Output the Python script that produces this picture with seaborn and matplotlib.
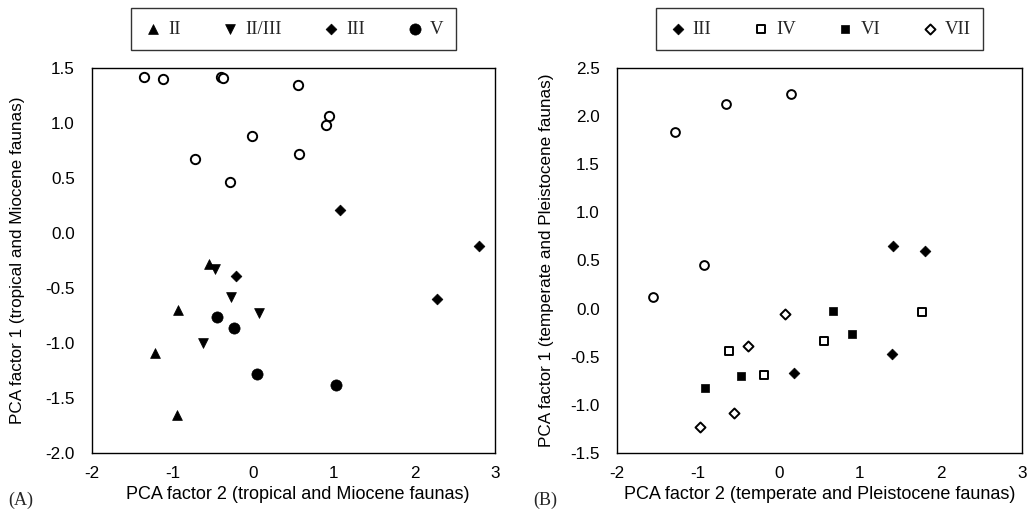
import matplotlib
matplotlib.use("Agg")
import matplotlib.pyplot as plt
import seaborn as sns
import numpy as np

# ---- Panel A data ----
a_open_x = [-1.36, -1.12, -0.40, -0.38, 0.55, 0.94, 0.90, -0.02, 0.57, -0.72, -0.29]
a_open_y = [1.42, 1.40, 1.42, 1.41, 1.35, 1.06, 0.98, 0.88, 0.72, 0.67, 0.46]
a_II_x = [-0.55, -0.93, -1.22, -0.95]
a_II_y = [-0.28, -0.70, -1.09, -1.65]
a_IIIII_x = [-0.48, -0.28, 0.07, -0.62]
a_IIIII_y = [-0.33, -0.58, -0.73, -1.00]
a_III_x = [1.08, 2.80, 2.28, -0.21]
a_III_y = [0.21, -0.12, -0.60, -0.39]
a_V_x = [-0.45, -0.24, 0.05, 1.03]
a_V_y = [-0.76, -0.86, -1.28, -1.38]

# ---- Panel B data ----
b_open_x = [-1.56, -1.28, -0.65, 0.15, -0.93]
b_open_y = [0.12, 1.84, 2.13, 2.23, 0.45]
b_III_x = [0.19, 1.39, 1.41, 1.80]
b_III_y = [-0.67, -0.47, 0.65, 0.60]
b_IV_x = [-0.62, -0.19, 0.55, 1.77]
b_IV_y = [-0.44, -0.69, -0.34, -0.03]
b_VI_x = [-0.91, -0.47, 0.67, 0.90]
b_VI_y = [-0.82, -0.70, -0.02, -0.26]
b_VII_x = [0.07, -0.38, -0.56, -0.98]
b_VII_y = [-0.06, -0.39, -1.08, -1.23]

legend_A = ["II", "II/III", "III", "V"]
legend_B = ["III", "IV", "VI", "VII"]
xticks = [-2, -1, 0, 1, 2, 3]
yticks_A = [-2.0, -1.5, -1.0, -0.5, 0.0, 0.5, 1.0, 1.5]
yticks_B = [-1.5, -1.0, -0.5, 0.0, 0.5, 1.0, 1.5, 2.0, 2.5]

sns.set_theme(style="white")
plt.rcParams["font.family"] = ["Liberation Sans", "DejaVu Sans"]

fig = plt.figure(figsize=(10.30, 5.14), dpi=100)
W, H = 1030, 514
axA = fig.add_axes([92 / W, 1 - 453 / H, (495 - 92) / W, (453 - 68) / H])
axB = fig.add_axes([617 / W, 1 - 453 / H, (1022 - 617) / W, (453 - 68) / H])

def filled(ax, x, y, m, s, label):
    sns.scatterplot(x=x, y=y, marker=m, s=s, color="black", edgecolor="black",
                    linewidth=0.5, ax=ax, label=label)

def hollow(ax, x, y, m, s, label=None):
    sns.scatterplot(x=x, y=y, marker=m, s=s, facecolor="white", edgecolor="black",
                    linewidth=1.4, ax=ax, label=label)

# Panel A
hollow(axA, a_open_x, a_open_y, "o", 45)
filled(axA, a_II_x, a_II_y, "^", 50, legend_A[0])
filled(axA, a_IIIII_x, a_IIIII_y, "v", 50, legend_A[1])
filled(axA, a_III_x, a_III_y, "D", 30, legend_A[2])
filled(axA, a_V_x, a_V_y, "o", 65, legend_A[3])

# Panel B
hollow(axB, b_open_x, b_open_y, "o", 40)
filled(axB, b_III_x, b_III_y, "D", 30, legend_B[0])
hollow(axB, b_IV_x, b_IV_y, "s", 28, legend_B[1])
filled(axB, b_VI_x, b_VI_y, "s", 32, legend_B[2])
hollow(axB, b_VII_x, b_VII_y, "D", 26, legend_B[3])

for ax, yt, ylab, xlab, ylx, xlx in [
    (axA, yticks_A, "PCA factor 1 (tropical and Miocene faunas)", "PCA factor 2 (tropical and Miocene faunas)", -0.166, 0.51),
    (axB, yticks_B, "PCA factor 1 (temperate and Pleistocene faunas)", "PCA factor 2 (temperate and Pleistocene faunas)", -0.156, 0.5),
]:
    ax.set_xlim(-2, 3)
    ax.set_ylim(yt[0], yt[-1])
    ax.set_xticks(xticks)
    ax.set_xticklabels([str(t) for t in xticks])
    ax.set_yticks(yt)
    ax.set_yticklabels([f"{t:.1f}" for t in yt])
    ax.tick_params(axis="both", direction="inout", length=7, width=1, color="black",
                   labelsize=12.3, labelcolor="black")
    ax.tick_params(axis="x", pad=6)
    ax.tick_params(axis="y", pad=9)
    for sp in ax.spines.values():
        sp.set_visible(True)
        sp.set_color("black")
        sp.set_linewidth(1.0)
    ax.set_xlabel(xlab, fontsize=13, color="black", labelpad=3)
    ax.xaxis.set_label_coords(xlx, -0.086)
    ax.set_ylabel(ylab, fontsize=12.3, color="black")
    ax.yaxis.set_label_coords(ylx, 0.5)
    leg = ax.legend(loc="lower center", bbox_to_anchor=(0.5, 1.047), ncol=4,
                    frameon=True, fancybox=False, edgecolor="black",
                    prop={"family": "Liberation Serif", "size": 13.5},
                    handletextpad=0.3, columnspacing=2.15, handlelength=1.0,
                    borderpad=0.65, borderaxespad=0)
    leg.get_frame().set_linewidth(1.0)

fig.text(8 / W, 1 - 500 / H, "(A)", family="Liberation Serif", fontsize=13, va="center")
fig.text(533 / W, 1 - 500 / H, "(B)", family="Liberation Serif", fontsize=13, va="center")

fig.savefig("out.png", dpi=100, facecolor="white")
